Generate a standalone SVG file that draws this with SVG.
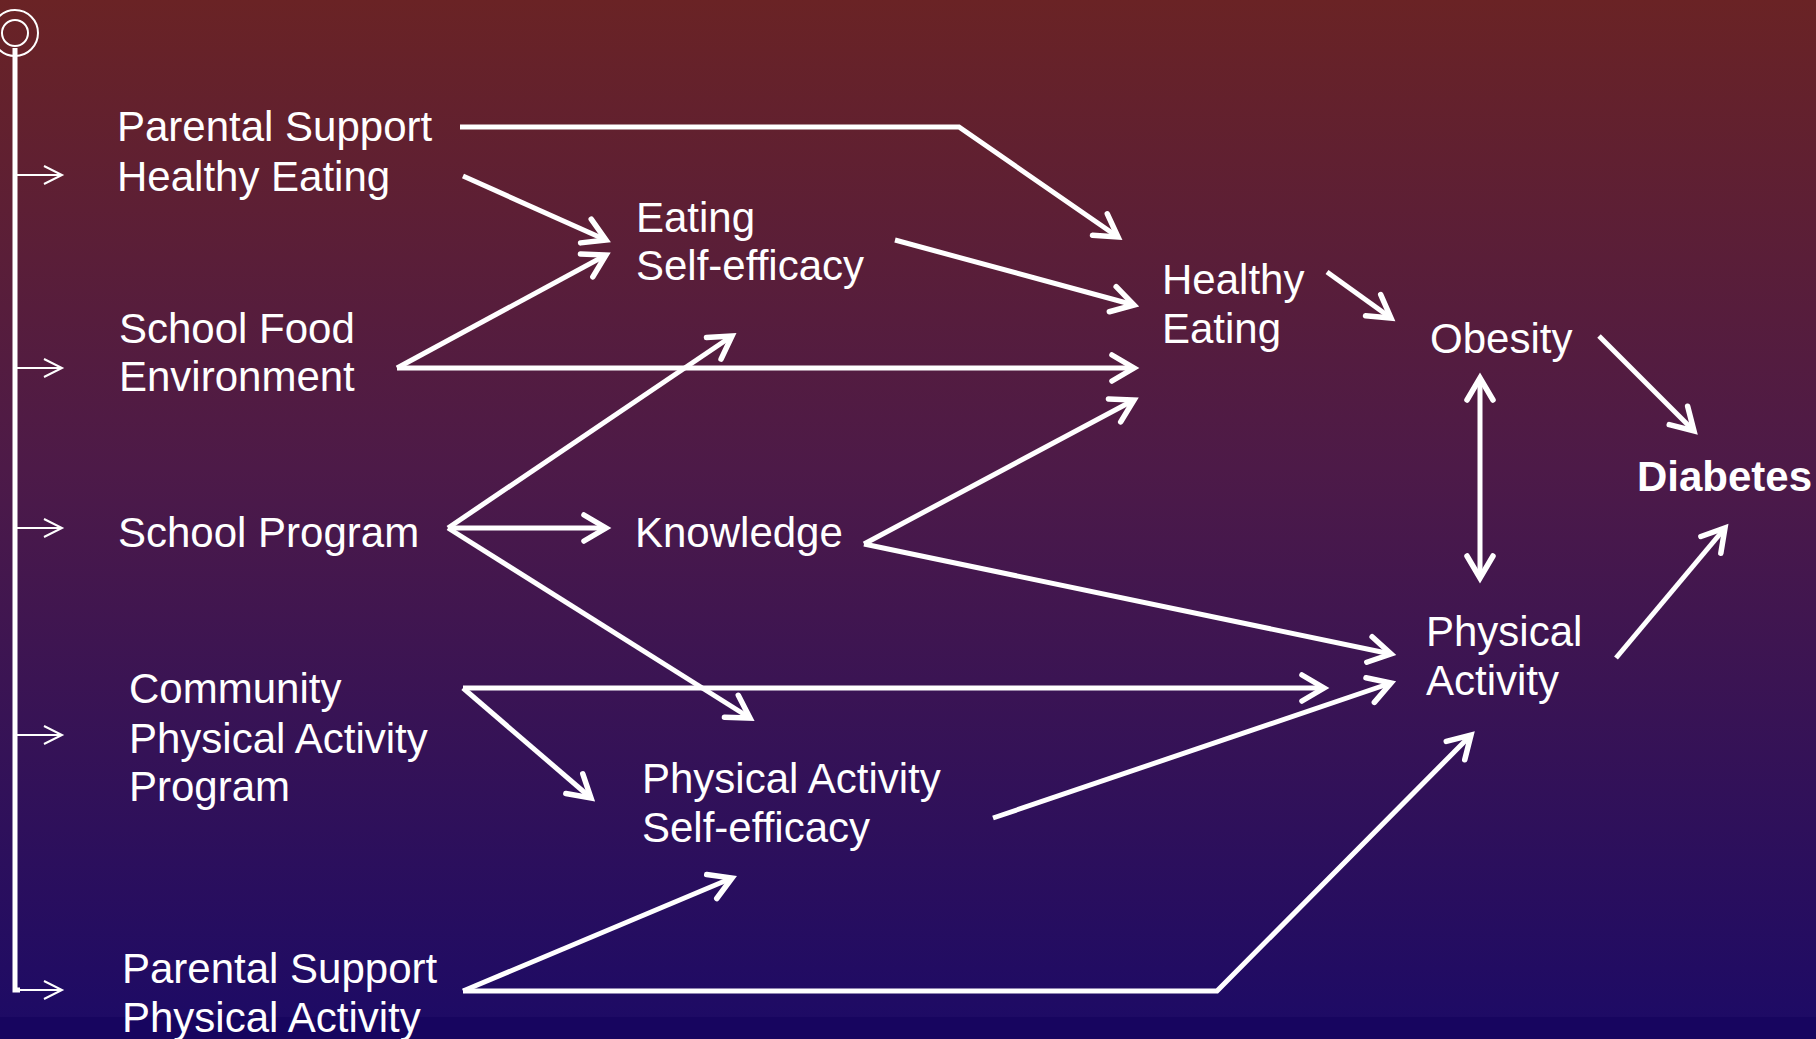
<svg xmlns="http://www.w3.org/2000/svg" width="1816" height="1039" viewBox="0 0 1816 1039">
<defs>
<linearGradient id="bg" x1="0" y1="0" x2="0" y2="1">
<stop offset="0" stop-color="#6a2325"/>
<stop offset="0.45" stop-color="#4d1a48"/>
<stop offset="1" stop-color="#1c0a66"/>
</linearGradient>
<marker id="ah" markerUnits="userSpaceOnUse" markerWidth="32" markerHeight="32" refX="25" refY="15" orient="auto" overflow="visible">
<path d="M3,2 L25,15 L3,28" fill="none" stroke="#ffffff" stroke-width="5.5" stroke-linecap="round" stroke-linejoin="miter"/>
</marker>
<marker id="ahs" markerUnits="userSpaceOnUse" markerWidth="24" markerHeight="24" refX="20" refY="10" orient="auto" overflow="visible">
<path d="M2,1 L20,10 L2,19" fill="none" stroke="#ffffff" stroke-width="2"/>
</marker>
<marker id="ahb" markerUnits="userSpaceOnUse" markerWidth="32" markerHeight="32" refX="25" refY="15" orient="auto-start-reverse" overflow="visible">
<path d="M3,2 L25,15 L3,28" fill="none" stroke="#ffffff" stroke-width="5.5" stroke-linecap="round"/>
</marker>
</defs>
<style>
text{font-family:"Liberation Sans",Arial,sans-serif;font-size:42px;fill:#ffffff}
.b{font-weight:bold}
.c{fill:none;stroke:#ffffff;stroke-width:5;marker-end:url(#ah)}
.t{fill:none;stroke:#ffffff;stroke-width:2;marker-end:url(#ahs)}
</style>
<rect x="0" y="0" width="1816" height="1039" fill="url(#bg)"/>
<rect x="0" y="1017" width="1816" height="22" fill="#17055f"/>

<g id="timeline">
<circle cx="15" cy="33" r="23" fill="none" stroke="#ffffff" stroke-width="2"/>
<circle cx="15" cy="33" r="13" fill="none" stroke="#ffffff" stroke-width="2"/>
<path d="M15,48 V990 H20" fill="none" stroke="#ffffff" stroke-width="5"/>
<line class="t" x1="15" y1="175" x2="62" y2="175"/>
<line class="t" x1="15" y1="368" x2="62" y2="368"/>
<line class="t" x1="15" y1="528" x2="62" y2="528"/>
<line class="t" x1="15" y1="735" x2="62" y2="735"/>
<line class="t" x1="15" y1="990" x2="62" y2="990"/>
</g>

<g id="connectors">
<polyline class="c" points="460,127 959,127 1118,237"/>
<line class="c" x1="463" y1="176" x2="606" y2="240"/>
<line class="c" x1="397" y1="368" x2="606" y2="255"/>
<line class="c" x1="397" y1="368" x2="1134" y2="368"/>
<line class="c" x1="895" y1="240" x2="1134" y2="305"/>
<line class="c" x1="448" y1="528" x2="732" y2="336"/>
<line class="c" x1="448" y1="528" x2="606" y2="528" stroke-width="7"/>
<line class="c" x1="448" y1="528" x2="750" y2="718"/>
<line class="c" x1="864" y1="544" x2="1134" y2="400"/>
<line class="c" x1="864" y1="544" x2="1391" y2="654"/>
<line class="c" x1="463" y1="688" x2="1324" y2="688"/>
<line class="c" x1="463" y1="688" x2="591" y2="798"/>
<line class="c" x1="993" y1="818" x2="1391" y2="683"/>
<line class="c" x1="463" y1="991" x2="732" y2="878"/>
<polyline class="c" points="463,991 1217,991 1471,735"/>
<line class="c" x1="1327" y1="272" x2="1391" y2="318"/>
<line class="c" x1="1480" y1="378" x2="1480" y2="578" style="marker-start:url(#ahb)"/>
<line class="c" x1="1599" y1="336" x2="1694" y2="431"/>
<line class="c" x1="1616" y1="658" x2="1725" y2="528"/>
</g>

<g id="n-parental-eating"><text x="117" y="141">Parental Support</text><text x="117" y="191">Healthy Eating</text></g>
<g id="n-school-food"><text x="119" y="343">School Food</text><text x="119" y="391">Environment</text></g>
<g id="n-school-program"><text x="118" y="547">School Program</text></g>
<g id="n-community"><text x="129" y="703">Community</text><text x="129" y="753">Physical Activity</text><text x="129" y="801">Program</text></g>
<g id="n-parental-pa"><text x="122" y="983">Parental Support</text><text x="122" y="1032">Physical Activity</text></g>
<g id="n-eating-se"><text x="636" y="232">Eating</text><text x="636" y="280">Self-efficacy</text></g>
<g id="n-knowledge"><text x="635" y="547">Knowledge</text></g>
<g id="n-pa-se"><text x="642" y="793">Physical Activity</text><text x="642" y="842">Self-efficacy</text></g>
<g id="n-healthy-eating"><text x="1162" y="294">Healthy</text><text x="1162" y="343">Eating</text></g>
<g id="n-obesity"><text x="1430" y="353">Obesity</text></g>
<g id="n-pa"><text x="1426" y="646">Physical</text><text x="1426" y="695">Activity</text></g>
<g id="n-diabetes"><text class="b" x="1637" y="491">Diabetes</text></g>
</svg>
